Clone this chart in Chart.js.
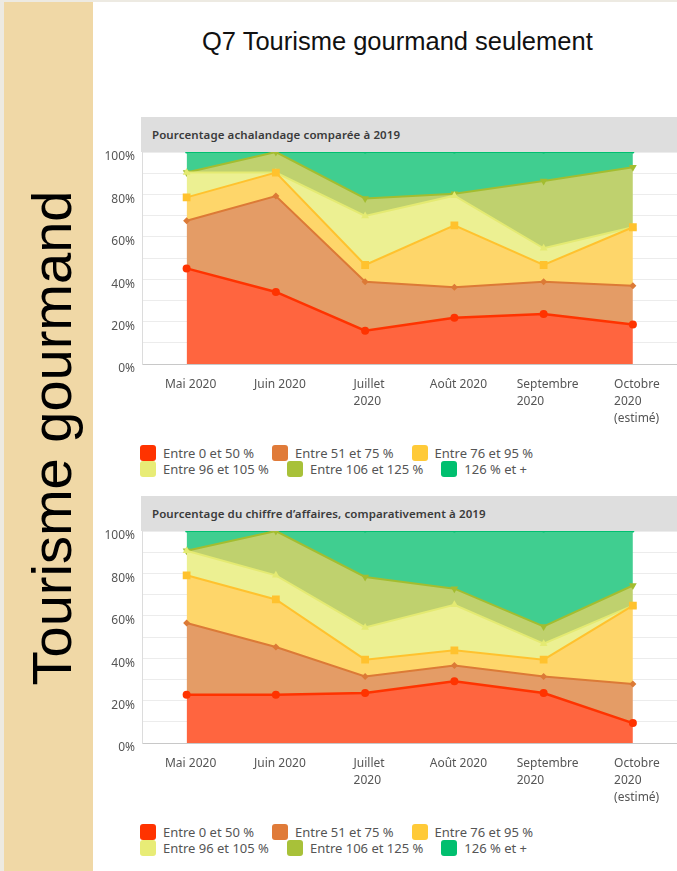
<!DOCTYPE html>
<html lang="fr">
<head>
<meta charset="utf-8">
<title>Q7 Tourisme gourmand seulement</title>
<script src="https://cdn.jsdelivr.net/npm/chart.js@4.4.1/dist/chart.umd.min.js"></script>
<style>
  html, body { margin: 0; padding: 0; overflow: hidden; }
  body { width: 677px; height: 871px; background: #edeae2; position: relative; font-family: "Noto Sans", sans-serif; }
  #band { position: absolute; left: 4px; top: 2px; width: 89px; height: 869px; background: #f0d8a6; }
  #side { position: absolute; left: -248px; top: 408px; width: 600px; height: 60px; line-height: 60px; text-align: center;
          font-family: "Liberation Sans", Arial, sans-serif; font-size: 56px; color: #000; transform: rotate(-90deg); white-space: nowrap; }
  #page { position: absolute; left: 93px; top: 2px; right: 0; bottom: 0; background: #fff; }
  #title { position: absolute; left: 202px; top: 27px; font-family: "Liberation Sans", Arial, sans-serif; font-size: 25.5px; color: #111; white-space: nowrap; }
  .head { position: absolute; left: 141px; width: 536px; height: 35px; line-height: 35px; background: #dedede; z-index: 2;
          font-size: 11.5px; font-weight: 600; color: #3a3a3a; padding-left: 11px; box-sizing: border-box; white-space: nowrap; letter-spacing: 0.1px; }
  .box { position: absolute; left: 93px; width: 590px; height: 282px; z-index: 1; }
  .legend { position: absolute; left: 140px; }
  .row { display: flex; height: 16.5px; align-items: center; }
  .item { display: flex; align-items: center; margin-right: 18px; font-size: 13px; color: #555; white-space: nowrap; }
  .sw { width: 16px; height: 16px; border-radius: 3px; margin-right: 7px; }
</style>
</head>
<body>
<div id="band"></div>
<div id="side">Tourisme gourmand</div>
<div id="page"></div>
<div id="title">Q7 Tourisme gourmand seulement</div>

<div class="head" style="top:117px">Pourcentage achalandage comparée à 2019</div>
<div class="box" style="top:142px"><canvas id="chartVisits"></canvas></div>
<div class="legend" id="legendVisits" style="top:444.5px"></div>

<div class="head" style="top:496px">Pourcentage du chiffre d’affaires, comparativement à 2019</div>
<div class="box" style="top:521px"><canvas id="chartSales"></canvas></div>
<div class="legend" id="legendSales" style="top:823.5px"></div>

<script>
const months = [["Mai 2020"], ["Juin 2020"], ["Juillet", "2020"], ["Août 2020"], ["Septembre", "2020"], ["Octobre", "2020", "(estimé)"]];
const seriesNames = ["Entre 0 et 50 %", "Entre 51 et 75 %", "Entre 76 et 95 %", "Entre 96 et 105 %", "Entre 106 et 125 %", "126 % et +"];
const yTicks = [0, 10, 20, 30, 40, 50, 60, 70, 80, 90, 100];

// achalandage (share of respondents per bracket)
const visits0to50    = [45.1, 34.0, 15.7, 21.8, 23.6, 18.6];
const visits51to75   = [22.5, 45.2, 23.1, 14.4, 15.2, 18.3];
const visits76to95   = [11.0, 11.1, 7.9, 29.2, 7.9, 27.6];
const visits96to105  = [11.7, 0, 23.1, 14.0, 7.9, 0];
const visits106to125 = [0, 9.7, 8.3, 0.9, 31.7, 28.3];
const visits126plus  = [9.7, 0, 21.9, 19.7, 13.7, 7.2];

// chiffre d'affaires
const sales0to50    = [22.8, 22.8, 23.6, 29.1, 23.6, 9.4];
const sales51to75   = [33.8, 22.5, 7.8, 7.4, 7.8, 18.4];
const sales76to95   = [22.5, 22.4, 7.9, 7.2, 7.9, 37.0];
const sales96to105  = [11.6, 11.4, 15.2, 21.5, 7.5, 0];
const sales106to125 = [0, 20.9, 23.8, 7.6, 8.2, 9.5];
const sales126plus  = [9.3, 0, 21.7, 27.2, 45.0, 25.7];

const lineColors = ["#ff3300", "#dc7a36", "#ffc22e", "#e4ea72", "#a3bd30", "#00bf6f"];
const fillColors = ["#ff653f", "#e49c66", "#fed66a", "#ecf092", "#bfd16e", "#40ce90"];
const swatchColors = ["#ff3300", "#e07b39", "#ffca38", "#e8ec76", "#a8c139", "#00bf6f"];
const markers = [
  { style: "circle", radius: 4, rotation: 0 },
  { style: "rectRot", radius: 3.5, rotation: 0 },
  { style: "rect", radius: 5.5, rotation: 0 },
  { style: "triangle", radius: 4.5, rotation: 0 },
  { style: "triangle", radius: 4.5, rotation: 180 },
  { style: "circle", radius: 1.5, rotation: 0 }
];

Chart.defaults.font.family = "'Noto Sans', sans-serif";

// month labels drawn left-aligned inside a block centred under each point
const monthLabels = {
  id: "monthLabels",
  afterDraw(chart) {
    const ctx = chart.ctx;
    const x = chart.scales.x;
    const bottom = chart.chartArea.bottom;
    ctx.save();
    ctx.font = "12px 'Noto Sans', sans-serif";
    ctx.fillStyle = "#555";
    ctx.textAlign = "left";
    ctx.textBaseline = "middle";
    months.forEach((lines, i) => {
      const w = Math.max(...lines.map(l => ctx.measureText(l).width));
      const left = x.getPixelForValue(i) - w / 2 + 4;
      lines.forEach((line, k) => ctx.fillText(line, left, bottom + 21 + k * 17));
    });
    ctx.restore();
  }
};

function buildChart(id, series) {
  const datasets = series.map((values, i) => ({
    label: seriesNames[i],
    data: values,
    borderColor: lineColors[i],
    backgroundColor: fillColors[i],
    borderWidth: i === 0 ? 2.5 : 2,
    fill: i === 0 ? "origin" : "-1",
    tension: 0,
    pointStyle: markers[i].style,
    pointRadius: markers[i].radius,
    pointRotation: markers[i].rotation,
    pointBackgroundColor: lineColors[i],
    pointBorderWidth: 0,
    pointHoverRadius: markers[i].radius
  }));

  return new Chart(document.getElementById(id), {
    type: "line",
    data: { labels: months, datasets: datasets },
    options: {
      responsive: true,
      maintainAspectRatio: false,
      animation: false,
      layout: { padding: { top: 10, bottom: 60, left: 0, right: 0 } },
      plugins: { legend: { display: false }, tooltip: { enabled: false } },
      scales: {
        x: {
          offset: true,
          grid: { display: false, drawTicks: false },
          border: { display: true, color: "#c8c8c8", width: 1 },
          ticks: { display: false }
        },
        y: {
          stacked: true,
          min: 0,
          max: 100,
          afterBuildTicks(scale) { scale.ticks = yTicks.map(v => ({ value: v })); },
          afterFit(scale) { scale.width = 49; scale.paddingTop = 0; scale.paddingBottom = 0; },
          grid: { color: "#ececec", drawTicks: false },
          border: { display: true, color: "#dcdcdc", width: 1 },
          ticks: {
            padding: 7,
            labelOffset: 5,
            color: "#555",
            font: { size: 12 },
            autoSkip: false,
            callback: v => (v % 20 === 0 ? v + "%" : "")
          }
        }
      }
    },
    plugins: [monthLabels]
  });
}

function buildLegend(id) {
  const holder = document.getElementById(id);
  [[0, 1, 2], [3, 4, 5]].forEach(idx => {
    const row = document.createElement("div");
    row.className = "row";
    idx.forEach(i => {
      const item = document.createElement("div");
      item.className = "item";
      const sw = document.createElement("span");
      sw.className = "sw";
      sw.style.background = swatchColors[i];
      item.appendChild(sw);
      item.appendChild(document.createTextNode(seriesNames[i]));
      row.appendChild(item);
    });
    holder.appendChild(row);
  });
}

buildChart("chartVisits", [visits0to50, visits51to75, visits76to95, visits96to105, visits106to125, visits126plus]);
buildChart("chartSales", [sales0to50, sales51to75, sales76to95, sales96to105, sales106to125, sales126plus]);
buildLegend("legendVisits");
buildLegend("legendSales");
</script>
</body>
</html>
